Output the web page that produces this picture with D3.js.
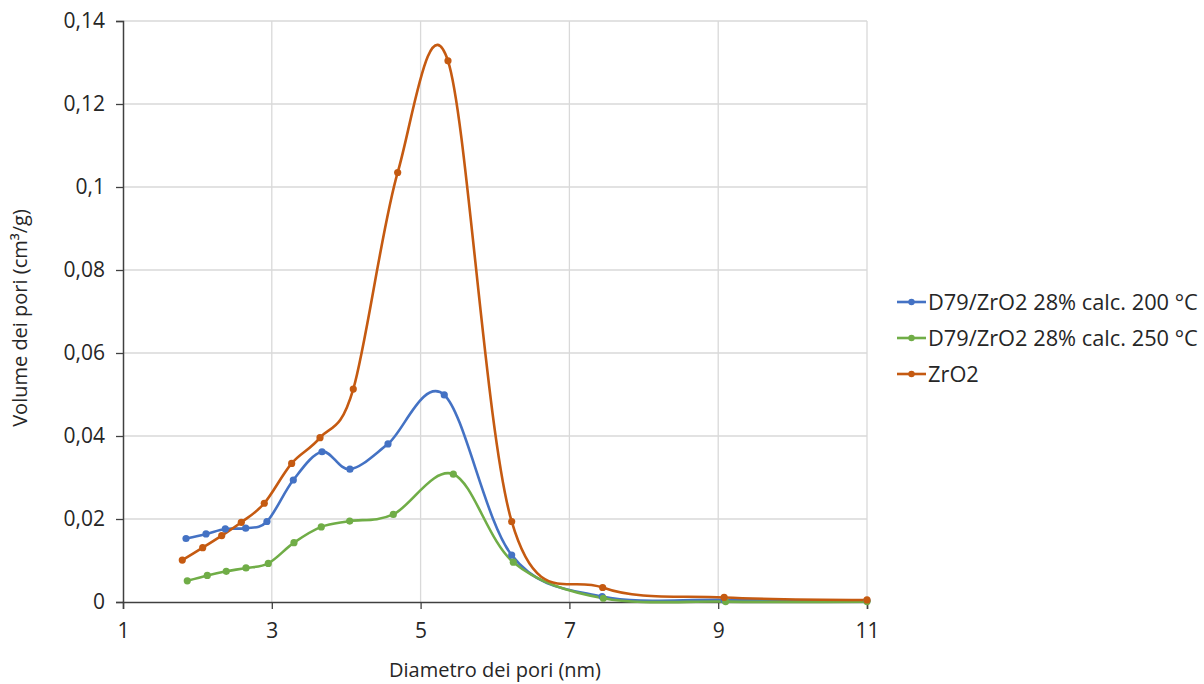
<!DOCTYPE html>
<html>
<head>
<meta charset="utf-8">
<script src="https://cdn.jsdelivr.net/npm/d3@7"></script>
<style>
  html, body { margin: 0; padding: 0; background: #fff; }
  svg { display: block; font-family: "Open Sans", "Noto Sans", sans-serif; }
</style>
</head>
<body>
<svg id="chart" width="1204" height="684"></svg>
<script>
// Pore size distribution (BJH) for three samples
const seriesNames = ["D79/ZrO2 28% calc. 200 °C", "D79/ZrO2 28% calc. 250 °C", "ZrO2"];
const seriesColors = ["#4472C4", "#70AD47", "#C55A11"];

const diamA = [1.847, 2.116, 2.375, 2.649, 2.935, 3.289, 3.675, 4.05, 4.562, 5.318, 6.224, 7.44, 9.08, 11.0];
const volA  = [0.0153, 0.0164, 0.0176, 0.0178, 0.0194, 0.0294, 0.0362, 0.0320, 0.0381, 0.0499, 0.0113, 0.0013, 0.0005, 0.0003];

const diamB = [1.864, 2.133, 2.388, 2.653, 2.953, 3.298, 3.665, 4.047, 4.633, 5.44, 6.246, 7.456, 9.1, 11.0];
const volB  = [0.0051, 0.0064, 0.0074, 0.0082, 0.0093, 0.0143, 0.0181, 0.0195, 0.0211, 0.0308, 0.0096, 0.0009, 0.0001, 0.0001];

const diamC = [1.797, 2.071, 2.327, 2.59, 2.899, 3.267, 3.648, 4.095, 4.692, 5.368, 6.224, 7.447, 9.08, 11.0];
const volC  = [0.0101, 0.0131, 0.0160, 0.0192, 0.0238, 0.0334, 0.0396, 0.0513, 0.1035, 0.1304, 0.0194, 0.0035, 0.0011, 0.0005];

const xTicks = [1, 3, 5, 7, 9, 11];
const yTicks = [0, 0.02, 0.04, 0.06, 0.08, 0.1, 0.12, 0.14];

const xTitle = "Diametro dei pori (nm)";
const yTitle = "Volume dei pori (cm³/g)";

const series = [
  { name: seriesNames[0], color: seriesColors[0], pts: diamA.map((d, i) => [d, volA[i]]) },
  { name: seriesNames[1], color: seriesColors[1], pts: diamB.map((d, i) => [d, volB[i]]) },
  { name: seriesNames[2], color: seriesColors[2], pts: diamC.map((d, i) => [d, volC[i]]) }
];

const itLocale = d3.formatLocale({ decimal: ",", thousands: ".", grouping: [3], currency: ["", " €"] });
const yFmt = itLocale.format("~g");

const svg = d3.select("#chart");
const m = { left: 123, right: 867, top: 21, bottom: 602 };
const textColor = "#262626";
const fontSize = 21;

const x = d3.scaleLinear().domain([1, 11]).range([m.left, m.right]);
const y = d3.scaleLinear().domain([0, 0.14]).range([m.bottom, m.top]);

// grid
const grid = svg.append("g");
grid.selectAll("line.h").data(yTicks.filter(v => v > 0)).join("line")
  .attr("x1", m.left).attr("x2", m.right)
  .attr("y1", d => y(d)).attr("y2", d => y(d))
  .attr("stroke", "#d9d9d9").attr("stroke-width", 1.3);
grid.selectAll("line.v").data(xTicks.filter(v => v > 1)).join("line")
  .attr("x1", d => x(d)).attr("x2", d => x(d))
  .attr("y1", m.top).attr("y2", m.bottom)
  .attr("stroke", "#d9d9d9").attr("stroke-width", 1.3);

// axes
const yAxis = d3.axisLeft(y).tickValues(yTicks).tickFormat(yFmt).tickSize(7).tickPadding(11);
const xAxis = d3.axisBottom(x).tickValues(xTicks).tickFormat(d3.format("d")).tickSize(7).tickPadding(14);

const gy = svg.append("g").attr("transform", `translate(${m.left},0)`).call(yAxis);
const gx = svg.append("g").attr("transform", `translate(0,${m.bottom})`).call(xAxis);
[gx, gy].forEach(g => {
  g.select(".domain").attr("stroke", "#404040").attr("stroke-width", 1.5);
  g.selectAll(".tick line").attr("stroke", "#404040").attr("stroke-width", 1.3);
  g.selectAll(".tick text").attr("fill", textColor).attr("font-size", fontSize)
    .attr("font-family", "'Open Sans', 'Noto Sans', sans-serif");
});

// axis titles
svg.append("text").attr("x", 495).attr("y", 677)
  .attr("text-anchor", "middle").attr("font-size", 20).attr("fill", textColor)
  .text(xTitle);
svg.append("text").attr("transform", `translate(27,318) rotate(-90)`)
  .attr("text-anchor", "middle").attr("font-size", 20).attr("fill", textColor)
  .text(yTitle);

// smoothed lines (uniform Catmull-Rom) and markers
const line = d3.line().x(d => x(d[0])).y(d => y(d[1])).curve(d3.curveCardinal.tension(0));
const plot = svg.append("g");
series.forEach(s => {
  plot.append("path").attr("d", line(s.pts))
    .attr("fill", "none").attr("stroke", s.color).attr("stroke-width", 2.6)
    .attr("stroke-linejoin", "round");
});
series.forEach(s => {
  plot.append("g").selectAll("circle").data(s.pts).join("circle")
    .attr("cx", d => x(d[0])).attr("cy", d => y(d[1])).attr("r", 3.6)
    .attr("fill", s.color);
});

// legend
const lg = svg.append("g").attr("transform", "translate(897,302)");
series.forEach((s, i) => {
  const row = lg.append("g").attr("transform", `translate(0,${i * 36})`);
  row.append("line").attr("x1", 0).attr("x2", 29).attr("y1", 0).attr("y2", 0)
    .attr("stroke", s.color).attr("stroke-width", 2.6);
  row.append("circle").attr("cx", 14.5).attr("cy", 0).attr("r", 3.2).attr("fill", s.color);
  row.append("text").attr("x", 31).attr("y", 0).attr("dy", "0.35em")
    .attr("font-size", 21.8).attr("fill", textColor).text(s.name);
});
</script>
</body>
</html>
